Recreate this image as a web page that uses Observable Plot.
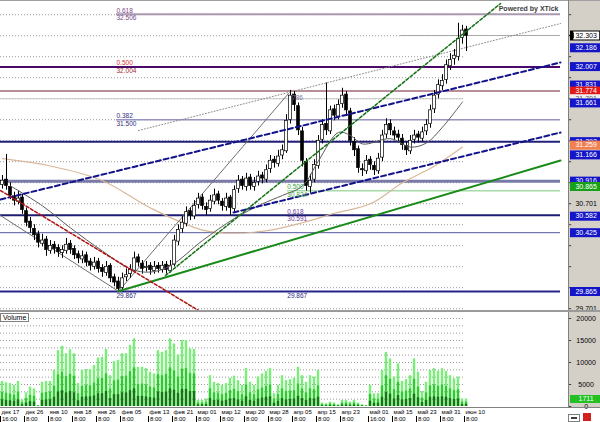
<!DOCTYPE html>
<html><head><meta charset="utf-8">
<script src="https://cdn.jsdelivr.net/npm/d3@7"></script>
<script src="https://cdn.jsdelivr.net/npm/@observablehq/plot@0.6"></script>
<style>
body{margin:0;background:#fff;font-family:"Liberation Sans",Arial,sans-serif}
#wrap{position:relative;width:600px;height:422px;overflow:hidden;background:#fff}
.abs{position:absolute}
</style>
</head><body>
<div id="wrap">
  <div class="abs" style="left:568px;top:0;width:32px;height:408px;background:#d4d0c8"></div>
  <div id="price" class="abs" style="left:0;top:0"></div>
  <div id="vol" class="abs" style="left:0;top:311px"></div>
  <div id="axis" class="abs" style="left:0;top:408px"></div>
  <div class="abs" style="left:0;top:0;width:600px;height:1px;background:#a0a0a0"></div>
  <div class="abs" style="left:568px;top:0;width:1px;height:408px;background:#808080"></div>
  <div class="abs" style="left:0;top:310px;width:600px;height:2px;background:#9a9a9a"></div>
  <div class="abs" style="left:0;top:407px;width:600px;height:1px;background:#808080"></div>
  <div class="abs" style="left:0;top:313px;border:1px solid #808080;background:#fff;font-size:7px;line-height:7px;padding:0 2px;color:#000">Volume</div>
  <div class="abs" style="left:568px;top:414px;width:10px;height:6px;border:1px solid #808080;background:#fff"><div style="margin:2px;height:2px;background:#404040"></div></div>
  <div class="abs" style="left:583px;top:413px;width:8px;height:8px;background:#d02020"></div>
</div>
<script>
// ---------- price bars ----------
const openP = [30.88,30.93,30.86,30.77,30.72,30.76,30.63,30.53,30.46,30.41,
30.32,30.36,30.25,30.31,30.28,30.23,30.25,30.32,30.27,30.22,
30.17,30.21,30.15,30.10,30.15,30.09,30.04,30.11,30.00,29.96,
29.90,30.00,30.03,30.06,30.19,30.13,30.09,30.11,30.06,30.11,
30.07,30.12,30.06,30.12,30.34,30.46,30.51,30.63,30.58,30.69,
30.76,30.67,30.65,30.72,30.79,30.72,30.67,30.76,30.65,30.84,
30.93,30.86,30.95,30.86,30.91,30.97,30.93,31.03,31.12,31.08,
31.16,31.20,31.50,31.74,31.63,31.39,31.10,30.86,30.93,31.06,
31.31,31.46,31.39,31.60,31.53,31.65,31.74,31.58,31.29,31.22,
31.03,31.01,31.12,31.06,31.01,31.14,31.36,31.46,31.39,31.36,
31.32,31.25,31.20,31.31,31.36,31.32,31.39,31.46,31.60,31.74,
31.82,31.88,32.01,32.08,32.10,32.28,32.36];
const highP = [30.97,31.17,30.90,30.81,30.82,30.79,30.66,30.57,30.50,30.44,
30.41,30.39,30.35,30.34,30.31,30.30,30.37,30.35,30.30,30.25,
30.25,30.24,30.18,30.19,30.18,30.12,30.15,30.13,30.03,30.00,
30.04,30.08,30.12,30.24,30.22,30.16,30.15,30.14,30.15,30.14,
30.15,30.15,30.16,30.40,30.50,30.58,30.67,30.66,30.73,30.80,
30.79,30.71,30.78,30.84,30.82,30.75,30.80,30.78,30.87,30.97,
30.96,30.99,30.98,30.95,31.01,31.00,31.07,31.16,31.15,31.21,
31.26,31.55,31.78,31.77,31.66,31.43,31.13,30.98,31.12,31.35,
31.50,31.85,31.63,31.64,31.69,31.80,31.77,31.61,31.33,31.25,
31.08,31.16,31.15,31.10,31.18,31.40,31.51,31.50,31.43,31.40,
31.36,31.29,31.35,31.40,31.39,31.43,31.50,31.64,31.78,31.88,
31.93,32.07,32.13,32.17,32.42,32.40,32.39];
const lowP = [30.84,30.83,30.74,30.68,30.69,30.60,30.48,30.42,30.35,30.28,
30.29,30.20,30.22,30.22,30.19,30.18,30.22,30.22,30.17,30.13,
30.13,30.10,30.06,30.07,30.04,30.00,30.01,29.95,29.91,29.867,
29.88,29.96,29.99,30.04,30.10,30.03,30.05,30.02,30.03,30.04,
30.04,30.03,30.04,30.10,30.30,30.42,30.48,30.54,30.55,30.65,
30.64,30.59,30.62,30.69,30.69,30.63,30.63,30.59,30.62,30.80,
30.83,30.82,30.83,30.82,30.87,30.89,30.90,30.99,31.04,31.05,
31.12,31.18,31.46,31.58,31.35,31.05,30.82,30.80,30.90,31.03,
31.27,31.35,31.36,31.49,31.50,31.61,31.54,31.25,31.15,30.99,
30.96,30.98,31.02,30.97,30.98,31.10,31.32,31.35,31.30,31.28,
31.21,31.16,31.17,31.27,31.28,31.29,31.35,31.42,31.56,31.70,
31.78,31.84,31.97,32.02,32.06,32.22,32.15];
const closeP = [30.92,30.87,30.78,30.73,30.75,30.64,30.52,30.47,30.40,30.33,
30.35,30.26,30.30,30.27,30.24,30.26,30.31,30.26,30.21,30.18,
30.20,30.14,30.11,30.14,30.08,30.05,30.10,29.99,29.95,29.89,
29.99,30.02,30.07,30.18,30.14,30.08,30.10,30.07,30.10,30.08,
30.11,30.07,30.11,30.35,30.45,30.52,30.62,30.59,30.68,30.75,
30.68,30.64,30.73,30.78,30.73,30.68,30.75,30.66,30.83,30.92,
30.87,30.94,30.87,30.90,30.96,30.94,31.02,31.11,31.09,31.15,
31.21,31.49,31.73,31.64,31.40,31.11,30.87,30.92,31.07,31.30,
31.45,31.40,31.59,31.54,31.64,31.73,31.59,31.30,31.21,31.04,
31.02,31.11,31.07,31.02,31.13,31.35,31.45,31.40,31.35,31.33,
31.26,31.21,31.30,31.35,31.33,31.38,31.45,31.59,31.73,31.83,
31.87,32.02,32.07,32.11,32.27,32.35,32.30];

// ---------- volume (three layers) ----------
const volTotal = [5700,5400,5200,4800,5700,1500,3100,4400,4000,200,
5500,5700,5700,8200,12700,13700,12000,12900,12000,5200,
8200,8400,8400,9300,11000,11200,13000,7000,10200,10500,
12000,12000,13900,15400,8900,8900,8600,7800,7400,12700,
12300,12700,15400,14200,11700,15000,15000,13100,13000,1400,
1400,1700,7000,5500,5200,4800,5200,6400,6900,5900,
4800,8600,5500,4800,6700,7400,8000,8600,2900,4800,
7000,5900,6100,6400,8900,7000,5500,7000,6700,8200,
800,600,1000,800,400,1400,1400,1000,1400,800,
400,200,4800,2900,2900,8200,12300,10800,6700,9700,
5700,6100,7000,10800,7800,3400,5500,8200,8600,8000,
8600,8000,7000,6300,6700,1700,1711];
const volMid = [3200,3000,2800,2600,3300,900,1800,2500,2300,100,
3000,3200,3300,4600,7200,7800,6800,7300,6900,2900,
4600,4800,4700,5300,6300,6400,7400,4000,5800,6000,
6800,6900,7900,8800,5000,5100,4900,4400,4200,7200,
7000,7300,8800,8100,6700,8500,8600,7500,7400,800,
800,1000,4000,3100,3000,2700,3000,3600,3900,3400,
2700,4900,3100,2700,3800,4200,4600,4900,1700,2700,
4000,3400,3500,3600,5100,4000,3100,4000,3800,4700,
500,400,600,500,250,800,800,600,800,500,
250,100,2700,1700,1700,4700,7000,6200,3800,5500,
3300,3500,4000,6200,4400,1900,3100,4700,4900,4600,
4900,4600,4000,3600,3800,1000,1000];
const volDark = [1500,1400,1300,1200,1500,400,800,1100,1000,50,
1400,1500,1500,2100,3300,3600,3100,3400,3100,1300,
2100,2200,2200,2400,2900,2900,3400,1800,2700,2700,
3100,3100,3600,4000,2300,2300,2200,2000,1900,3300,
3200,3300,4000,3700,3000,3900,3900,3400,3400,400,
400,450,1800,1400,1400,1200,1400,1700,1800,1500,
1200,2200,1400,1200,1700,1900,2100,2200,750,1200,
1800,1500,1600,1700,2300,1800,1400,1800,1700,2100,
200,150,250,200,100,350,350,250,350,200,
100,50,1200,750,750,2100,3200,2800,1700,2500,
1500,1600,1800,2800,2000,900,1400,2100,2200,2100,
2200,2100,1800,1600,1700,450,500];

// ---------- axis labels ----------
const tickBars = [0,6,12,18,24,30,37,43,49,55,61,67,73,79,85,92,98,104,110,116];
const dateLabels = ["дек 17","дек 26","янв 10","янв 18","янв 26","фев 05","фев 13","фев 21","мар 01","мар 12","мар 20","мар 28","апр 05","апр 15","апр 23","май 01","май 15","май 23","май 31","июн 10"];
const timeLabels = ["16:00","8:00","8:00","8:00","8:00","8:00","8:00","8:00","8:00","8:00","8:00","8:00","8:00","8:00","8:00","16:00","8:00","8:00","8:00","8:00"];
const priceGrid = [29.701,29.901,30.101,30.301,30.501,30.701,30.901,31.101,31.301,31.501,31.701,31.901,32.101,32.301,32.501];
const plainPriceTicks = [30.701, 29.701];
const volGrid = [1667,3333,5000,6667,8333,10000,11667,13333,15000,16667,18333,20000];
const volTicks = [0,5000,10000,15000,20000];

// right-axis markers
const markerValues = [32.303,32.186,32.007,31.831,31.774,31.701,31.661,31.292,31.259,31.166,30.916,30.865,30.582,30.425,29.865];
const markerKinds  = ["last","level","level","level","alert","plain","level","level","order","level","level","green","level","level","level"];

// horizontal levels
const levelValues = [32.506,32.004,31.774,31.701,31.500,32.303,31.292,30.916,30.824,30.591,30.425,29.865];

// fibonacci labels
const fib1Bar = 29, fib2Bar = 71.7;
const fib1Levels = [32.506,32.004,31.500], fib1Ratios = ["0.618","0.500","0.382"];
const fib2Levels = [30.824,30.591], fib2Ratios = ["0.500","0.618"];
const swingLow = 29.867;
const fib786 = 31.712;

// moving averages
const maShortBar = [2,10,17,25,32,37,42,50,58,65,70,75,79,84,87,90,97,102,106,110,115];
const maShortVal = [30.87,30.68,30.47,30.25,30.08,30.05,30.11,30.35,30.56,30.70,30.78,30.87,31.11,31.38,31.35,31.27,31.32,31.24,31.28,31.43,31.67];
const maLongBar = [0,12,25,37,50,58,67,75,83,92,100,108,115];
const maLongVal = [31.13,31.06,30.92,30.66,30.45,30.42,30.45,30.52,30.61,30.70,30.90,31.06,31.24];

// trend lines: [bar, price] endpoints
const channelUpper = [[0,30.741],[140,32.046]];
const channelLower = [[58.25,30.617],[140,31.379]];
const supportLine  = [[29.5,29.867],[140,31.112]];
const downTrend    = [[0,30.826],[49.5,29.684]];
const upTrendSteep = [[41.25,30.017],[125,32.607]];
const swingLine    = [[29.5,29.867],[72,31.750]];
const dottedUpper  = [[34.5,31.398],[140,32.417]];
const descLower    = [[0,30.588],[29.5,29.867]];

// ---------- build ----------
const bars = closeP.map((c,i)=>({i, o:openP[i], h:highP[i], l:lowP[i], c}));
const vol = volTotal.map((t,i)=>({i, t, m:volMid[i], d:volDark[i]}));
const pts = a => a.map(([b,v])=>({b,v}));
const X = {domain:[0,150], range:[0,600], axis:null};
const baseStyle = {background:"transparent", overflow:"visible", fontFamily:"Liberation Sans, Arial, sans-serif", fontSize:"7px"};
const FONT = 7;
const AXFONT = 6;

const levelStyles = [
  {from:29,to:140,stroke:"#a898b0",w:2},
  {from:0,to:140,stroke:"#4a0a6a",w:2},
  {from:0,to:140,stroke:"#b88f98",w:2},
  {from:0,to:115.75,stroke:"#c8c8c8",w:1},
  {from:29,to:140,stroke:"#9494bc",w:1.5},
  {from:100,to:140,stroke:"#a8a8a8",w:1},
  {from:0,to:140,stroke:"#20207a",w:2},
  {from:0,to:140,stroke:"#7a7aa8",w:3},
  {from:71.7,to:140,stroke:"#a8dca8",w:1.5},
  {from:0,to:140,stroke:"#1c1c70",w:2},
  {from:0,to:140,stroke:"#5858a0",w:1},
  {from:0,to:140,stroke:"#24248a",w:2}
];
const fib1Colors = [["#7a4a8a","#7a4a8a"],["#d83030","#a03030"],["#303080","#303080"]];
const fib2Colors = [["#40a040","#40a040"],["#6a3a9a","#6a3a9a"]];
const kindFill = {last:"#ffffff",level:"#1414c8",alert:"#e01818",plain:"#eeeeee",order:"#f08050",green:"#18a018"};
const kindText = {last:"#000",level:"#fff",alert:"#fff",plain:"#606060",order:"#fff",green:"#fff"};

const priceMarks = [
  Plot.ruleY(priceGrid, {x1:0, x2:115.75, stroke:"#9a9a9a", strokeDasharray:"1,2"}),
  Plot.ruleY(priceGrid, {x1:142, x2:142.8, stroke:"#404040"}),
  ...levelValues.map((v,k)=>Plot.ruleY([v], {x1:levelStyles[k].from, x2:levelStyles[k].to, stroke:levelStyles[k].stroke, strokeWidth:levelStyles[k].w})),
  Plot.line(maLongBar.map((b,k)=>({b, v:maLongVal[k]})), {x:d=>d.b+0.5, y:"v", stroke:"#d8b898", strokeWidth:1.2, curve:"catmull-rom"}),
  Plot.line(pts(descLower), {x:"b", y:"v", stroke:"#707070", strokeWidth:1}),
  Plot.line(pts(swingLine), {x:"b", y:"v", stroke:"#707070", strokeWidth:1}),
  Plot.line(pts(dottedUpper), {x:"b", y:"v", stroke:"#8c8c8c", strokeWidth:1, strokeDasharray:"1,2"}),
  Plot.ruleX(bars, {x:d=>d.i+0.5, y1:"l", y2:"h", stroke:"#000", strokeWidth:1}),
  Plot.rect(bars, {x1:d=>d.i+0.15, x2:d=>d.i+0.85, y1:"o", y2:"c", fill:d=>d.c>=d.o?"#fff":"#000", stroke:"#000", strokeWidth:0.7}),
  Plot.line(maShortBar.map((b,k)=>({b, v:maShortVal[k]})), {x:d=>d.b+0.5, y:"v", stroke:"#5a5a5a", strokeWidth:1, curve:"catmull-rom"}),
  Plot.line(pts(supportLine), {x:"b", y:"v", stroke:"#178a17", strokeWidth:2}),
  Plot.line(pts(channelUpper), {x:"b", y:"v", stroke:"#12128c", strokeWidth:2, strokeDasharray:"5,3"}),
  Plot.line(pts(channelLower), {x:"b", y:"v", stroke:"#12128c", strokeWidth:2, strokeDasharray:"5,3"}),
  Plot.line(pts(downTrend), {x:"b", y:"v", stroke:"#b01010", strokeWidth:1.5, strokeDasharray:"3,2"}),
  Plot.line(pts(upTrendSteep), {x:"b", y:"v", stroke:"#137013", strokeWidth:1.5, strokeDasharray:"3,2"}),
  // fib labels
  ...fib1Levels.flatMap((v,k)=>[
    Plot.text([v], {x:fib1Bar, y:d=>d, text:[fib1Ratios[k]], textAnchor:"start", dy:-3.5, fontSize:6.5, fill:fib1Colors[k][0]}),
    Plot.text([v], {x:fib1Bar, y:d=>d, text:[v.toFixed(3)], textAnchor:"start", dy:4, fontSize:6.5, fill:fib1Colors[k][1]})
  ]),
  ...fib2Levels.flatMap((v,k)=>[
    Plot.text([v], {x:fib2Bar, y:d=>d, text:[fib2Ratios[k]], textAnchor:"start", dy:-3.5, fontSize:6.5, fill:fib2Colors[k][0]}),
    Plot.text([v], {x:fib2Bar, y:d=>d, text:[v.toFixed(3)], textAnchor:"start", dy:4, fontSize:6.5, fill:fib2Colors[k][1]})
  ]),
  Plot.text([swingLow], {x:fib1Bar, y:d=>d, text:[swingLow.toFixed(3)], textAnchor:"start", dy:5, fontSize:6.5, fill:"#2a2a80"}),
  Plot.text([swingLow], {x:fib2Bar, y:d=>d, text:[swingLow.toFixed(3)], textAnchor:"start", dy:5, fontSize:6.5, fill:"#2a2a80"}),
  Plot.text([fib786], {x:fib2Bar+1.2, y:d=>d, text:["786"], textAnchor:"start", fontSize:6.5, fill:"#7a7aa0"}),
  Plot.text(["Powered by XTick"], {frameAnchor:"top-right", dx:-42, dy:6, textAnchor:"end", fontSize:7, fontWeight:"bold", fill:"#404040"}),
  // right axis
  Plot.text(plainPriceTicks, {x:146.4, y:d=>d, text:d=>d.toFixed(3), fontSize:FONT, fill:"#000"})
];
markerValues.forEach((v,k)=>{
  const kind = markerKinds[k];
  if (kind==="last") {
    priceMarks.push(Plot.ruleY([v], {x1:142.5, x2:150, stroke:"#000", strokeWidth:10}));
    priceMarks.push(Plot.ruleY([v], {x1:143.3, x2:149.8, stroke:"#fff", strokeWidth:8}));
    priceMarks.push(Plot.dot([v], {x:142.9, y:d=>d, symbol:"triangle", r:2.2, fill:"#000", rotate:-90}));
  } else {
    priceMarks.push(Plot.ruleY([v], {x1:142.5, x2:150, stroke:kindFill[kind], strokeWidth:9}));
  }
  priceMarks.push(Plot.text([v], {x:146.4, y:d=>d, text:d=>d.toFixed(3), fontSize:FONT, fill:kindText[kind]}));
});

const price = Plot.plot({
  width:600, height:311, marginTop:0, marginRight:0, marginBottom:0, marginLeft:0,
  x:X, y:{domain:[29.6744, 32.6363], range:[311,0], axis:null},
  style:baseStyle, marks:priceMarks
});
document.getElementById("price").appendChild(price);

const volume = Plot.plot({
  width:600, height:96, marginTop:0, marginRight:0, marginBottom:0, marginLeft:0,
  x:X, y:{domain:[0,21591], range:[95,0], axis:null},
  style:baseStyle,
  marks:[
    Plot.ruleY(volGrid, {x1:0, x2:115.75, stroke:"#9a9a9a", strokeDasharray:"1,2"}),
    Plot.ruleY(volTicks, {x1:142, x2:142.8, stroke:"#404040"}),
    Plot.rect(vol, {x1:d=>d.i+0.2, x2:d=>d.i+0.8, y1:0, y2:"t", fill:"#78f078"}),
    Plot.rect(vol, {x1:d=>d.i+0.2, x2:d=>d.i+0.8, y1:0, y2:"m", fill:"#2ccc2c"}),
    Plot.rect(vol, {x1:d=>d.i+0.2, x2:d=>d.i+0.8, y1:0, y2:"d", fill:"#0d7a0d"}),
    Plot.text(volTicks, {x:146.4, y:d=>d, text:d=>String(d), fontSize:FONT, fill:"#000"}),
    Plot.ruleY([volTotal[volTotal.length-1]], {x1:142.5, x2:150, stroke:"#22c022", strokeWidth:8}),
    Plot.text([volTotal[volTotal.length-1]], {x:146.4, y:d=>d, text:d=>String(d), fontSize:FONT, fill:"#fff"})
  ]
});
document.getElementById("vol").appendChild(volume);

const axis = Plot.plot({
  width:600, height:14, marginTop:0, marginRight:0, marginBottom:0, marginLeft:0,
  x:X, style:baseStyle,
  marks:[
    Plot.ruleX(tickBars, {x:d=>d, insetTop:8, stroke:"#000"}),
    Plot.text(tickBars, {x:d=>d, text:(d,i)=>dateLabels[i], frameAnchor:"top", dy:1.5, dx:1, textAnchor:"start", fontSize:AXFONT, fill:"#000"}),
    Plot.text(tickBars, {x:d=>d, text:(d,i)=>timeLabels[i], frameAnchor:"bottom", dy:-2, dx:1.5, textAnchor:"start", fontSize:AXFONT, fill:"#000"})
  ]
});
document.getElementById("axis").appendChild(axis);
</script>
</body></html>
